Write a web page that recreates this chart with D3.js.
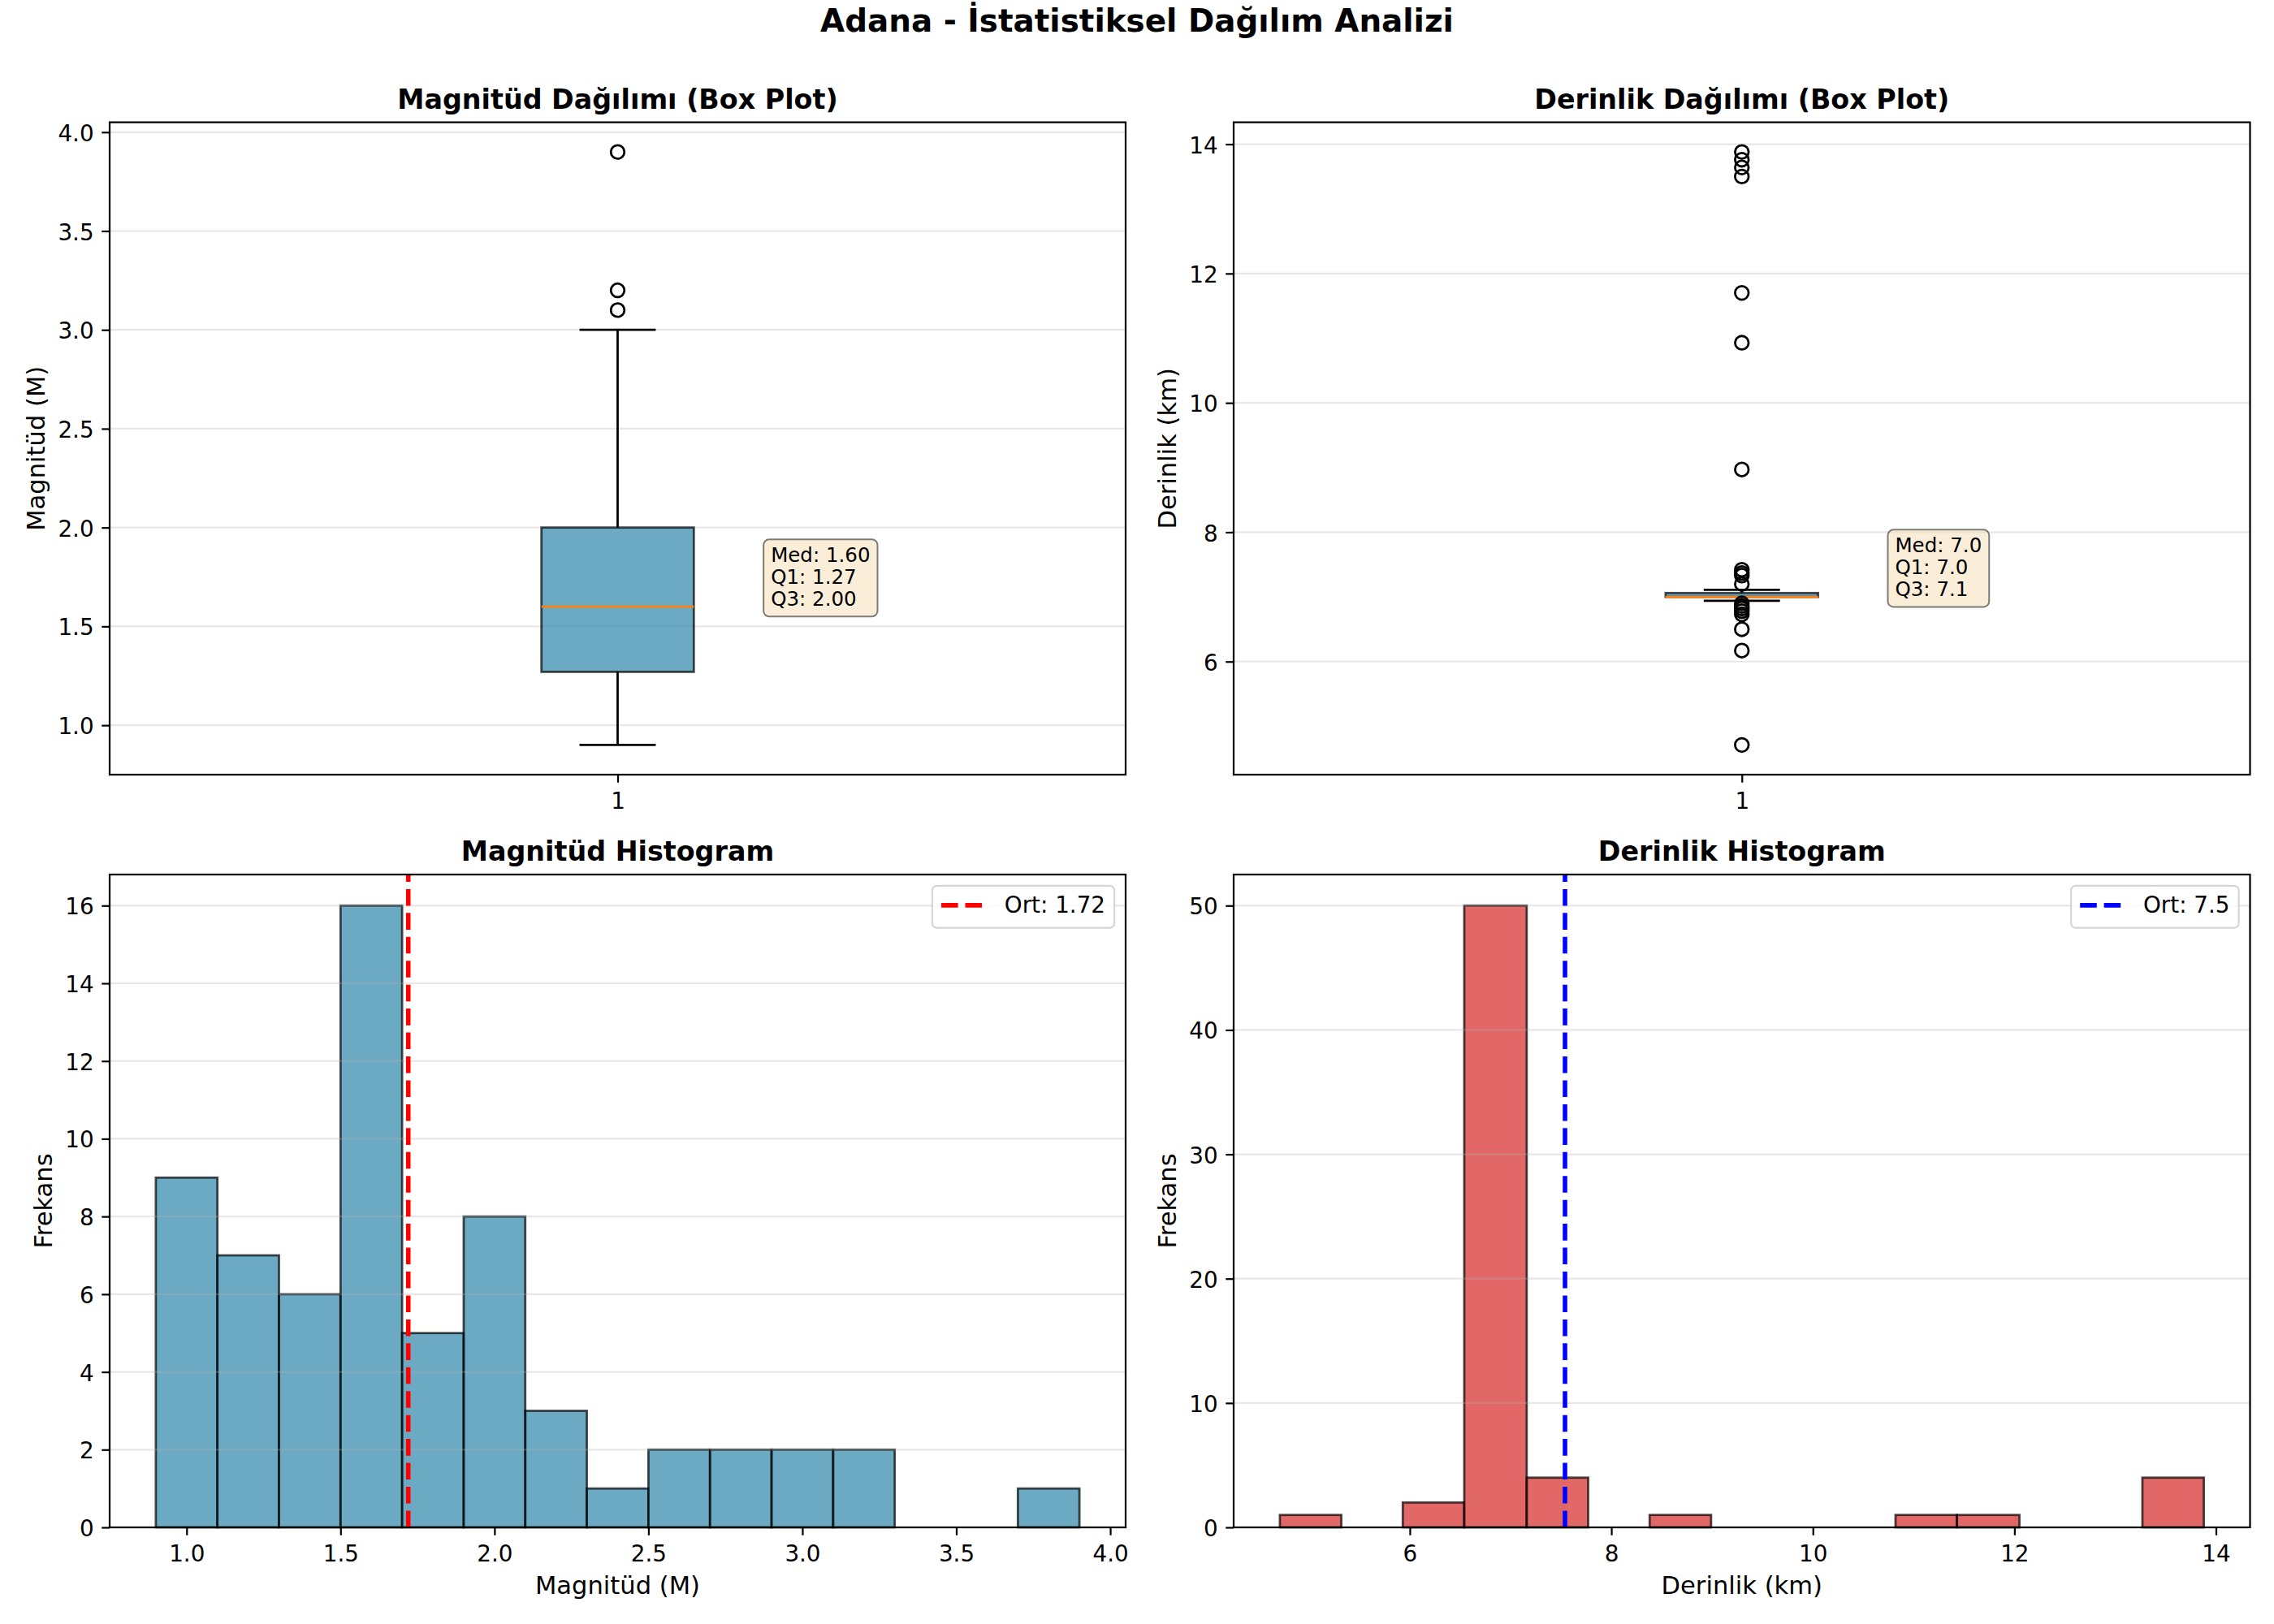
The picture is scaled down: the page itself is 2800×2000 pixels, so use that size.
<!DOCTYPE html>
<html>
<head>
<meta charset="utf-8">
<script src="https://cdnjs.cloudflare.com/ajax/libs/d3/7.8.5/d3.min.js"></script>
<style>
  body { margin: 0; background: #fff; }
</style>
</head>
<body>
<div class="container"></div>
<script>
// values
const magQuartiles = [1.27, 1.60, 2.00]          // Q1, median, Q3
const magWhiskers = [0.9, 3.0]
const magOutliers = [3.1, 3.2, 3.9]
const depthQuartiles = [7.0, 7.0, 7.06]
const depthWhiskers = [6.94, 7.11]
const depthOutliers = [13.88, 13.76, 13.64, 13.5, 11.7, 10.93, 8.97, 7.42, 7.37, 7.33, 7.2,
  6.9, 6.86, 6.82, 6.78, 6.73, 6.5, 6.17, 4.71]

const magBinEdges = [0.9, 1.1, 1.3, 1.5, 1.7, 1.9, 2.1, 2.3, 2.5, 2.7, 2.9, 3.1, 3.3, 3.5, 3.7, 3.9]
const magCounts = [9, 7, 6, 16, 5, 8, 3, 1, 2, 2, 2, 2, 0, 0, 1]
const depthBinEdges = [4.71, 5.32, 5.93, 6.54, 7.16, 7.77, 8.38, 8.99, 9.6, 10.21, 10.82, 11.43, 12.05, 12.66, 13.27, 13.88]
const depthCounts = [1, 0, 2, 50, 4, 0, 1, 0, 0, 0, 1, 1, 0, 0, 4]
const magMean = 1.72
const depthMean = 7.54

const magBoxTicks = [1.0, 1.5, 2.0, 2.5, 3.0, 3.5, 4.0]
const depthBoxTicks = [6, 8, 10, 12, 14]
const magHistXTicks = [1.0, 1.5, 2.0, 2.5, 3.0, 3.5, 4.0]
const magHistYTicks = [0, 2, 4, 6, 8, 10, 12, 14, 16]
const depthHistXTicks = [6, 8, 10, 12, 14]
const depthHistYTicks = [0, 10, 20, 30, 40, 50]

const W = 2800
const H = 2000
const PT = 200 / 72
const FONT = '"DejaVu Sans", sans-serif'
const fsTick = 10 * PT
const fsLabel = 11 * PT
const fsTitle = 12 * PT
const fsSup = 14 * PT
const fsNote = 24.5
const tickLen = 3.5 * PT
const lw = 1 * PT

const svg = d3.select('.container')
  .append('svg')
  .attr('width', W)
  .attr('height', H)

svg.append('rect').attr('width', W).attr('height', H).attr('fill', '#fff')

svg.append('text')
  .text('Adana - İstatistiksel Dağılım Analizi')
  .attr('x', 1400)
  .attr('y', 38.5)
  .attr('text-anchor', 'middle')
  .attr('font-family', FONT)
  .attr('font-weight', 'bold')
  .attr('font-size', fsSup)

const panels = [
  { x0: 135, x1: 1386, y0: 150.6, y1: 954 },
  { x0: 1519, x1: 2770.5, y0: 150.6, y1: 954 },
  { x0: 135, x1: 1386, y0: 1077, y1: 1881 },
  { x0: 1519, x1: 2770.5, y0: 1077, y1: 1881 }
]

const padDomain = (lo, hi) => {
  const m = (hi - lo) * 0.05
  return [lo - m, hi + m]
}

function styleAxis(ax) {
  ax.select('.domain').remove()
  ax.selectAll('line').attr('stroke', '#000').attr('stroke-width', 0.8 * PT)
  ax.selectAll('text')
    .attr('font-family', FONT)
    .attr('font-size', fsTick)
    .attr('fill', '#000')
}

function frame(g, p, title, xlabel, ylabel, x, y, xTicks, xFmt, yTicks, yFmt) {
  // y grid
  const grid = g.append('g')
  grid.selectAll('line')
    .data(yTicks)
    .enter()
    .append('line')
    .attr('x1', p.x0)
    .attr('x2', p.x1)
    .attr('y1', d => y(d))
    .attr('y2', d => y(d))
    .attr('stroke', '#b0b0b0')
    .attr('stroke-opacity', 0.3)
    .attr('stroke-width', 0.8 * PT)

  const yAx = g.append('g')
    .attr('transform', `translate(${p.x0},0)`)
    .call(d3.axisLeft(y).tickValues(yTicks).tickFormat(yFmt).tickSize(tickLen).tickPadding(tickLen))
  styleAxis(yAx)
  yAx.selectAll('text').attr('dy', '0.38em')

  const xAx = g.append('g')
    .attr('transform', `translate(0,${p.y1})`)
    .call(d3.axisBottom(x).tickValues(xTicks).tickFormat(xFmt).tickSize(tickLen).tickPadding(tickLen))
  styleAxis(xAx)
  xAx.selectAll('text').attr('dy', '0.8em')

  let maxW = 0
  yAx.selectAll('text').each(function () { maxW = Math.max(maxW, this.getComputedTextLength()) })

  g.append('text')
    .text(title)
    .attr('x', (p.x0 + p.x1) / 2)
    .attr('y', p.y0 - 6 * PT)
    .attr('text-anchor', 'middle')
    .attr('font-family', FONT)
    .attr('font-weight', 'bold')
    .attr('font-size', fsTitle)

  const lx = p.x0 - 2 * tickLen - maxW - 4 * PT - 5.5
  g.append('text')
    .text(ylabel)
    .attr('transform', `translate(${lx},${(p.y0 + p.y1) / 2}) rotate(-90)`)
    .attr('text-anchor', 'middle')
    .attr('font-family', FONT)
    .attr('font-size', fsLabel)

  if (xlabel) {
    g.append('text')
      .text(xlabel)
      .attr('x', (p.x0 + p.x1) / 2)
      .attr('y', p.y1 + 82)
      .attr('text-anchor', 'middle')
      .attr('font-family', FONT)
      .attr('font-size', fsLabel)
  }
}

function spines(g, p) {
  g.append('rect')
    .attr('x', p.x0)
    .attr('y', p.y0)
    .attr('width', p.x1 - p.x0)
    .attr('height', p.y1 - p.y0)
    .attr('fill', 'none')
    .attr('stroke', '#000')
    .attr('stroke-width', 0.8 * PT)
}

function boxPanel(p, quart, whisk, outliers, title, ylabel, ticks, tickFmt, noteFmt) {
  const g = svg.append('g')
  const x = d3.scaleLinear().domain([0.5, 1.5]).range([p.x0, p.x1])
  const vals = outliers.concat(whisk)
  const y = d3.scaleLinear().domain(padDomain(d3.min(vals), d3.max(vals))).range([p.y1, p.y0])

  frame(g, p, title, null, ylabel, x, y, [1], d3.format('d'), ticks, tickFmt)

  const [q1, med, q3] = quart
  const cx = x(1)
  const bx0 = x(1 - 0.075), bx1 = x(1 + 0.075)
  const cx0 = x(1 - 0.0375), cx1 = x(1 + 0.0375)

  // whiskers
  g.append('line').attr('x1', cx).attr('x2', cx).attr('y1', y(q1)).attr('y2', y(whisk[0]))
    .attr('stroke', '#000').attr('stroke-width', lw)
  g.append('line').attr('x1', cx).attr('x2', cx).attr('y1', y(q3)).attr('y2', y(whisk[1]))
    .attr('stroke', '#000').attr('stroke-width', lw)
  // caps
  g.selectAll('line.cap')
    .data(whisk)
    .enter()
    .append('line')
    .attr('class', 'cap')
    .attr('x1', cx0).attr('x2', cx1)
    .attr('y1', d => y(d)).attr('y2', d => y(d))
    .attr('stroke', '#000').attr('stroke-width', lw)
  // box
  g.append('rect')
    .attr('x', bx0)
    .attr('y', y(q3))
    .attr('width', bx1 - bx0)
    .attr('height', y(q1) - y(q3))
    .attr('fill', '#2E86AB').attr('fill-opacity', 0.7)
    .attr('stroke', '#000').attr('stroke-opacity', 0.7).attr('stroke-width', lw)
  // median
  g.append('line').attr('x1', bx0).attr('x2', bx1).attr('y1', y(med)).attr('y2', y(med))
    .attr('stroke', '#ff7f0e').attr('stroke-width', lw)
  // fliers
  g.selectAll('circle')
    .data(outliers)
    .enter()
    .append('circle')
    .attr('cx', cx)
    .attr('cy', d => y(d))
    .attr('r', 3 * PT)
    .attr('fill', 'none')
    .attr('stroke', '#000')
    .attr('stroke-width', lw)

  spines(g, p)

  // stats note
  const lines = [`Med: ${noteFmt(med)}`, `Q1: ${noteFmt(q1)}`, `Q3: ${noteFmt(q3)}`]
  const tx = x(1.15) + 1
  const lastBase = y(med) - 1
  const pitch = 27.2
  const note = g.append('g')
  const bg = note.append('rect')
  let tw = 0
  lines.forEach((t, i) => {
    const el = note.append('text')
      .text(t)
      .attr('x', tx)
      .attr('y', lastBase - (lines.length - 1 - i) * pitch)
      .attr('font-family', FONT)
      .attr('font-size', fsNote)
    tw = Math.max(tw, el.node().getComputedTextLength())
  })
  const top = lastBase - (lines.length - 1) * pitch - 27.4
  bg.attr('x', tx - 9)
    .attr('y', top)
    .attr('width', tw + 18)
    .attr('height', lastBase + 13.3 - top)
    .attr('rx', 7)
    .attr('fill', '#f5deb3').attr('fill-opacity', 0.5)
    .attr('stroke', '#000').attr('stroke-opacity', 0.5).attr('stroke-width', 2)
}

function histPanel(p, edges, counts, mean, fill, lineColor, title, xlabel, xTicks, xFmt, yTicks, yMax, meanFmt) {
  const g = svg.append('g')
  const x = d3.scaleLinear().domain(padDomain(edges[0], edges[edges.length - 1])).range([p.x0, p.x1])
  const y = d3.scaleLinear().domain([0, yMax]).range([p.y1, p.y0])

  const bins = counts.map((c, i) => ({ a: edges[i], b: edges[i + 1], c })).filter(d => d.c > 0)

  g.selectAll('rect.bar')
    .data(bins)
    .enter()
    .append('rect')
    .attr('class', 'bar')
    .attr('x', d => x(d.a))
    .attr('width', d => x(d.b) - x(d.a))
    .attr('y', d => y(d.c))
    .attr('height', d => y(0) - y(d.c))
    .attr('fill', fill).attr('fill-opacity', 0.7)
    .attr('stroke', '#000').attr('stroke-opacity', 0.7).attr('stroke-width', lw)

  frame(g, p, title, xlabel, 'Frekans', x, y, xTicks, xFmt, yTicks, d3.format('d'))

  const dash = `${3.7 * 2 * PT},${1.6 * 2 * PT}`
  g.append('line')
    .attr('x1', x(mean)).attr('x2', x(mean))
    .attr('y1', p.y1).attr('y2', p.y0)
    .attr('stroke', lineColor)
    .attr('stroke-width', 2 * PT)
    .attr('stroke-dasharray', dash)

  spines(g, p)

  // legend
  const fs = fsTick
  const lg = g.append('g')
  const frameRect = lg.append('rect')
  const label = lg.append('text')
    .text(`Ort: ${meanFmt(mean)}`)
    .attr('font-family', FONT)
    .attr('font-size', fs)
  const tw = label.node().getComputedTextLength()
  const bw = 0.8 * fs + 2 * fs + 0.8 * fs + tw
  const bh = 51.7
  const bx = p.x1 - 0.5 * fs - bw
  const by = p.y0 + 0.5 * fs
  frameRect
    .attr('x', bx).attr('y', by)
    .attr('width', bw).attr('height', bh)
    .attr('rx', 0.2 * fs)
    .attr('fill', '#fff').attr('fill-opacity', 0.8)
    .attr('stroke', '#cccccc').attr('stroke-opacity', 0.8)
    .attr('stroke-width', 0.8 * PT)
  lg.append('line')
    .attr('x1', bx + 0.4 * fs).attr('x2', bx + 2.4 * fs)
    .attr('y1', by + 24).attr('y2', by + 24)
    .attr('stroke', lineColor)
    .attr('stroke-width', 2 * PT)
    .attr('stroke-dasharray', dash)
  label.attr('x', bx + 3.2 * fs).attr('y', by + 33.3)
}

boxPanel(panels[0], magQuartiles, magWhiskers, magOutliers,
  'Magnitüd Dağılımı (Box Plot)', 'Magnitüd (M)', magBoxTicks, d3.format('.1f'), d3.format('.2f'))
boxPanel(panels[1], depthQuartiles, depthWhiskers, depthOutliers,
  'Derinlik Dağılımı (Box Plot)', 'Derinlik (km)', depthBoxTicks, d3.format('d'), d3.format('.1f'))

histPanel(panels[2], magBinEdges, magCounts, magMean, '#2E86AB', '#ff0000',
  'Magnitüd Histogram', 'Magnitüd (M)', magHistXTicks, d3.format('.1f'), magHistYTicks, 16.8, d3.format('.2f'))
histPanel(panels[3], depthBinEdges, depthCounts, depthMean, '#D62828', '#0000ff',
  'Derinlik Histogram', 'Derinlik (km)', depthHistXTicks, d3.format('d'), depthHistYTicks, 52.5, d3.format('.1f'))
</script>
</body>
</html>
